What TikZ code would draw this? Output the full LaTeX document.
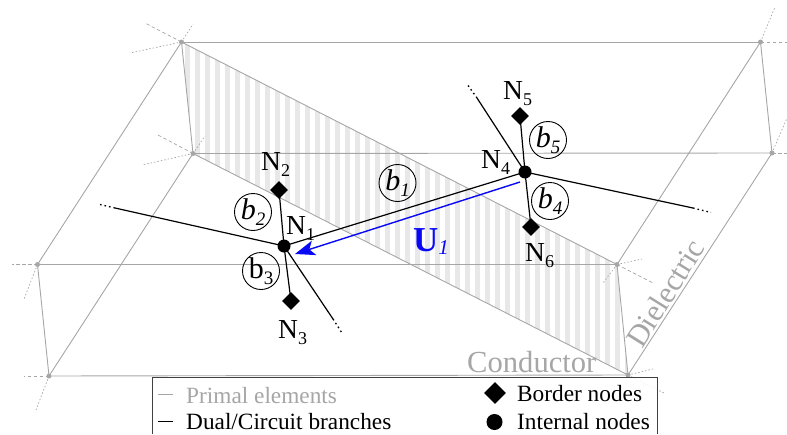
\documentclass[tikz,border=0pt]{standalone}
\usepackage{fontspec}
\setmainfont{Liberation Serif}
\usetikzlibrary{arrows.meta,shapes.geometric}
\definecolor{prim}{HTML}{A6A6A6}
\definecolor{stripe}{HTML}{E8E8E8}
\definecolor{ublue}{HTML}{0808F5}
\tikzset{
  primal/.style={draw=prim,line width=0.9pt},
  dashstub/.style={draw=prim,line width=0.7pt,dash pattern=on 3.5pt off 2.5pt},
  dotstub/.style={draw=prim,line width=0.7pt,dash pattern=on 1.5pt off 2pt},
  vertex/.style={circle,fill=prim,inner sep=0pt,minimum size=5pt},
  branch/.style={draw=black,line width=1.2pt},
  dots/.style={draw=black,line width=1.3pt,dash pattern=on 1.6pt off 3pt},
  inode/.style={circle,fill=black,inner sep=0pt,minimum size=13pt},
  bnode/.style={diamond,fill=black,inner sep=0pt,minimum size=18pt},
  lab/.style={anchor=base west,inner sep=0pt,font=\fontsize{27.5}{27.5}\selectfont},
  bcirc/.style={circle,draw=black,line width=0.9pt,inner sep=0pt,minimum size=37pt,font=\fontsize{30}{30}\selectfont},
  legtxt/.style={anchor=base west,inner sep=0pt,font=\fontsize{23.3}{23.3}\selectfont}
}
\newcommand{\Nsub}[1]{N\raisebox{-0.22em}{\fontsize{18}{18}\selectfont #1}}
\newcommand{\Bsub}[2]{#1\raisebox{-0.22em}{\fontsize{19}{19}\selectfont #2}}
\begin{document}
\begin{tikzpicture}[x=1pt,y=-1pt]
\useasboundingbox (0,0) rectangle (787,434);
% vertices
\coordinate (A) at (181.5,42);
\coordinate (B) at (760.5,42);
\coordinate (C) at (193,153.5);
\coordinate (D) at (772,153);
\coordinate (E) at (37.5,264.5);
\coordinate (F) at (617,264.5);
\coordinate (G) at (49,376);
\coordinate (H) at (628,375);
% stripes
\begin{scope}
\clip (A) -- (F) -- (H) -- (C) -- cycle;
\foreach \x in {185,195,...,625}
  \fill[stripe] (\x,30) rectangle (\x+5,385);
\end{scope}
% primal edges
\draw[primal] (A) -- (B);
\draw[primal] (C) -- (D);
\draw[primal] (E) -- (F);
\draw[primal] (G) -- (H);
\draw[primal] (A) -- (F);
\draw[primal] (C) -- (H);
\draw[primal] (A) -- (E);
\draw[primal] (C) -- (G);
\draw[primal] (B) -- (F);
\draw[primal] (D) -- (H);
\draw[primal] (A) -- (C);
\draw[primal] (B) -- (D);
\draw[primal] (E) -- (G);
\draw[primal] (F) -- (H);
% stubs
\coordinate (s1) at (145,23); \coordinate (s2) at (193,24); \coordinate (s3) at (130,53);
\draw[dashstub] (A) -- (s1); \draw[dotstub] (A) -- (s2); \draw[dotstub] (A) -- (s3);
\coordinate (s4) at (158,135); \coordinate (s5) at (205,136); \coordinate (s6) at (142,165);
\draw[dashstub] (C) -- (s4); \draw[dotstub] (C) -- (s5); \draw[dotstub] (C) -- (s6);
\coordinate (s7) at (787,42); \coordinate (s8) at (775,7);
\draw[dashstub] (B) -- (s7); \draw[dotstub] (B) -- (s8);
\coordinate (s9) at (787,153); \coordinate (s10) at (787,118);
\draw[dashstub] (D) -- (s9); \draw[dotstub] (D) -- (s10);
\coordinate (s11) at (12,264.5); \coordinate (s12) at (24,299);
\draw[dashstub] (E) -- (s11); \draw[dotstub] (E) -- (s12);
\coordinate (s13) at (24,376); \coordinate (s14) at (36,410);
\draw[dashstub] (G) -- (s13); \draw[dotstub] (G) -- (s14);
\coordinate (s15) at (642,259); \coordinate (s16) at (653,283); \coordinate (s17) at (603,283);
\draw[dotstub] (F) -- (s15); \draw[dashstub] (F) -- (s16); \draw[dotstub] (F) -- (s17);
\coordinate (s18) at (653,369); \coordinate (s19) at (664,393);
\draw[dotstub] (H) -- (s18); \draw[dotstub] (H) -- (s19);
\foreach \v in {A,B,C,D,E,F,G,H} \node[vertex] (v\v) at (\v) {};
% circuit nodes
\node[inode] (n1) at (284,246) {};
\node[inode] (n4) at (525,172) {};
\node[bnode] (n2) at (279,190) {};
\node[bnode] (n3) at (291,301) {};
\node[bnode] (n5) at (520,116) {};
\node[bnode] (n6) at (531,227) {};
\coordinate (e1) at (115,208); \coordinate (e1d) at (100,204.5);
\coordinate (e2) at (333,319); \coordinate (e2d) at (342,333);
\coordinate (e3) at (477,98); \coordinate (e3d) at (467,84);
\coordinate (e4) at (693,208); \coordinate (e4d) at (711,212.5);
\draw[branch] (n1.center) -- (n4.center);
\draw[branch] (n1.center) -- (n2.center);
\draw[branch] (n1.center) -- (n3.center);
\draw[branch] (n4.center) -- (n5.center);
\draw[branch] (n4.center) -- (n6.center);
\draw[branch] (n1.center) -- (e1);
\draw[branch] (n1.center) -- (e2);
\draw[branch] (n4.center) -- (e3);
\draw[branch] (n4.center) -- (e4);
\draw[dots] (e1) -- (e1d);
\draw[dots] (e2) -- (e2d);
\draw[dots] (e3) -- (e3d);
\draw[dots] (e4) -- (e4d);
% blue arrow
\coordinate (u0) at (520,182);
\coordinate (u1) at (295,254);
\draw[ublue,line width=1.4pt,-{Stealth[length=20pt,width=15pt,inset=5pt]}] (u0) -- (u1);
% labels
\node[lab] (l1) at (286,234) {\Nsub{1}};
\node[lab] (l2) at (261,170) {\Nsub{2}};
\node[lab] (l3) at (278,338) {\Nsub{3}};
\node[lab] (l4) at (481,168) {\Nsub{4}};
\node[lab] (l5) at (503,99) {\Nsub{5}};
\node[lab] (l6) at (525,261) {\Nsub{6}};
\node[bcirc] (b1) at (397.5,183) {\Bsub{\textit{b}}{\textit{1}}};
\node[bcirc] (b2) at (253,212) {\Bsub{\textit{b}}{\textit{2}}};
\node[bcirc] (b3) at (261,271) {\Bsub{b}{3}};
\node[bcirc] (b4) at (550,201) {\Bsub{\textit{b}}{\textit{4}}};
\node[bcirc] (b5) at (548,140) {\Bsub{\textit{b}}{\textit{5}}};
\node[anchor=base west,inner sep=0pt,text=ublue,font=\fontsize{35}{35}\selectfont] (ulab) at (413,251) {\textbf{U}\raisebox{-0.1em}{\fontsize{21}{21}\selectfont\textit{1}}};
\node[anchor=base west,inner sep=0pt,text=prim,font=\fontsize{30.6}{30.6}\selectfont] (cond) at (467,372) {Conductor};
\node[anchor=base west,inner sep=0pt,text=prim,rotate=58,font=\fontsize{30.6}{30.6}\selectfont] (diel) at (642,350) {Dielectric};
% legend
\fill[white,opacity=0.9] (152.5,377.5) rectangle (657.5,434);
\coordinate (la) at (152.5,434); \coordinate (lb) at (152.5,377.5);
\coordinate (lc) at (657.5,377.5); \coordinate (ld) at (657.5,434);
\draw[black!75,line width=0.9pt] (la) -- (lb) -- (lc) -- (ld);
\coordinate (m1a) at (158,394.5); \coordinate (m1b) at (173,394.5);
\coordinate (m2a) at (158,421.5); \coordinate (m2b) at (173,421.5);
\draw[primal] (m1a) -- (m1b);
\draw[branch] (m2a) -- (m2b);
\node[legtxt,text=prim] (t1) at (186,403) {Primal elements};
\node[legtxt] (t2) at (186,429) {Dual/Circuit branches};
\node[legtxt] (t3) at (517,401) {Border nodes};
\node[legtxt] (t4) at (517,429) {Internal nodes};
\node[diamond,fill=black,inner sep=0pt,minimum size=22pt] (k1) at (495,393) {};
\node[circle,fill=black,inner sep=0pt,minimum size=16pt] (k2) at (494.5,422) {};
\end{tikzpicture}
\end{document}
